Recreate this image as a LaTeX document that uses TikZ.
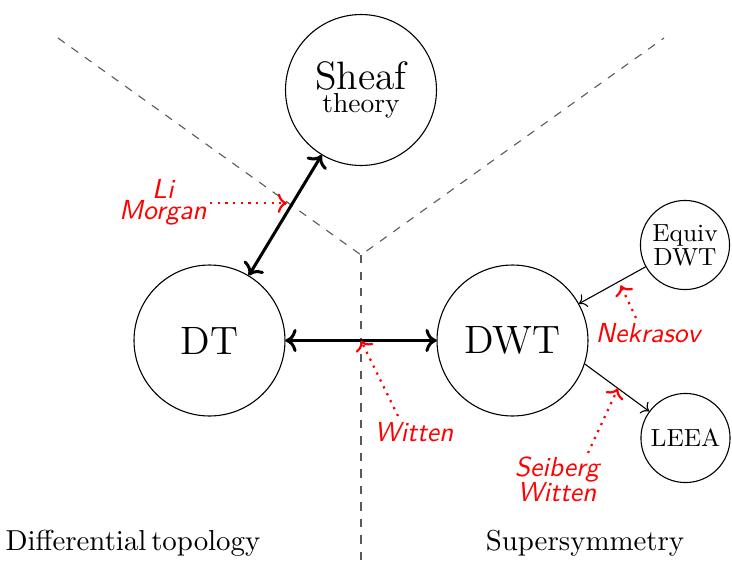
\documentclass[tikz,border=0pt]{standalone}
\usetikzlibrary{arrows.meta}
\begin{document}
\begin{tikzpicture}[x=0.36364pt, y=-0.36364pt,
  big/.style={circle, draw, inner sep=0pt, minimum size=54.9pt, font=\Large, align=center},
  small/.style={circle, draw, inner sep=0pt, minimum size=32.4pt, font=\small, align=center},
  field/.style={font=\fontsize{10.5}{12.6}\selectfont},
  region/.style={dashed, black!65},
  link/.style={<->, line width=1.1pt},
  flow/.style={->},
  credit/.style={red, font=\sffamily\itshape, align=center, inner sep=1pt},
  hint/.style={->, red, thick, dotted}]
  \useasboundingbox (0,0) rectangle (732,567);

  % separating lines between the two fields
  \coordinate (mid) at (361,255);
  \coordinate (tl) at (58,38);
  \coordinate (tr) at (664,38);
  \coordinate (bot) at (361,567);
  \draw[region] (tl) -- (mid) -- (tr);
  \draw[region] (mid) -- (bot);

  % theories
  \node[big] (sheaf) at (361,90) {Sheaf\\[-9.5pt]{\normalsize theory}};
  \node[big] (dt) at (209.5,340.5) {DT};
  \node[big] (dwt) at (512.5,340.5) {DWT};
  \node[small] (equiv) at (685,245) {Equiv\\[-2.3pt]DWT};
  \node[small] (leea) at (685.5,438) {LEEA};

  % field names
  \node[field] (difftop) at (133,543) {Differential\,topology};
  \node[field] (susy) at (585,543) {Supersymmetry};

  % relations
  \draw[link] (dt) -- coordinate[pos=0.6] (dtsheaf) (sheaf);
  \draw[link] (dt) -- coordinate[pos=0.5] (dtdwt) (dwt);
  \draw[flow] (equiv) -- coordinate[pos=0.4] (equivdwt) (dwt);
  \draw[flow] (dwt.-18) -- coordinate[pos=0.515] (dwtleea) (leea);

  % who found them
  \node[credit, anchor=east] (lm) at (210,202) {Li\\[-4.4pt]Morgan};
  \node[credit] (witten) at (414,432) {Witten};
  \node[credit] (nek) at (648,333) {Nekrasov};
  \node[credit] (sw) at (557,479) {Seiberg\\[-2.9pt]Witten};

  \coordinate (wstart) at (398,416);
  \coordinate (nstart) at (636,318);
  \coordinate (sstart) at (588,453);
  \draw[hint, shorten >=2pt] (lm.east |- dtsheaf) -- (dtsheaf);
  \draw[hint] (wstart) -- (dtdwt);
  \draw[hint, shorten >=1.5pt] (nstart) -- (equivdwt);
  \draw[hint] (sstart) -- (dwtleea);
\end{tikzpicture}
\end{document}
